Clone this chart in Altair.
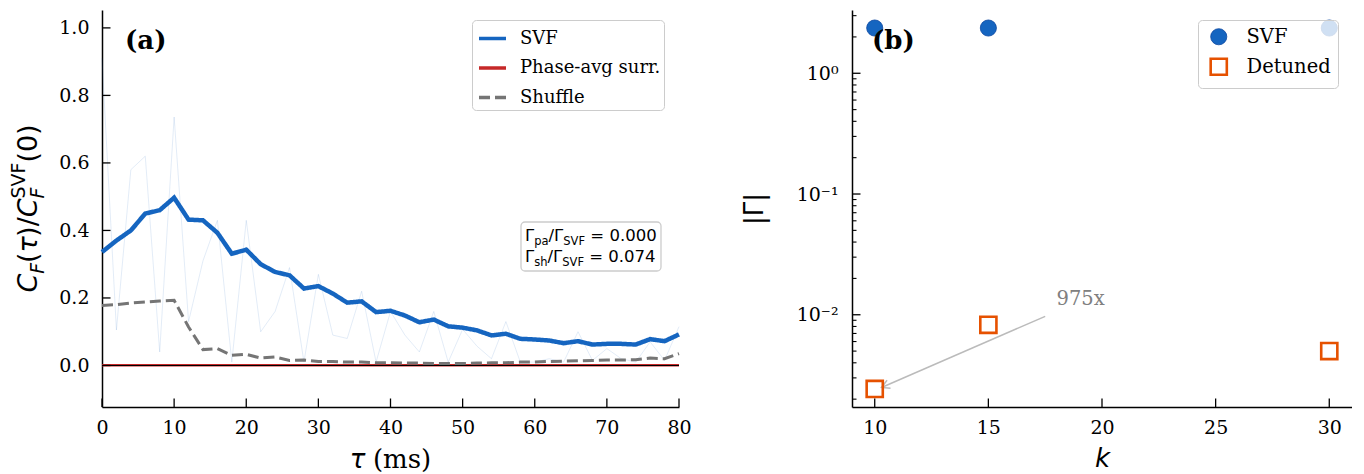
import math
import altair as alt
import pandas as pd

# ---------------- data ----------------
TAU = list(range(0, 81, 2))
SVF_SMOOTH = [0.336, 0.37, 0.40, 0.45, 0.46, 0.497, 0.432, 0.43, 0.393, 0.331, 0.343,
              0.30, 0.277, 0.267, 0.228, 0.235, 0.213, 0.186, 0.19, 0.158, 0.162,
              0.148, 0.128, 0.136, 0.116, 0.112, 0.104, 0.089, 0.094, 0.079, 0.077,
              0.074, 0.066, 0.072, 0.062, 0.064, 0.064, 0.062, 0.078, 0.072, 0.092]
SVF_RAW = [0.91, 0.105, 0.58, 0.62, 0.04, 0.736, 0.13, 0.31, 0.43, 0.01, 0.43,
           0.10, 0.16, 0.29, 0.01, 0.27, 0.09, 0.08, 0.22, 0.01, 0.16,
           0.09, 0.04, 0.16, 0.01, 0.107, 0.057, 0.02, 0.13, 0.01, 0.01,
           0.02, 0.01, 0.10, 0.015, 0.05, 0.02, 0.01, 0.07, 0.015, 0.115]
SHUFFLE = [0.178, 0.18, 0.185, 0.188, 0.191, 0.193, 0.114, 0.047, 0.05, 0.03, 0.033,
           0.022, 0.025, 0.015, 0.016, 0.012, 0.012, 0.01, 0.01, 0.008, 0.008,
           0.007, 0.007, 0.006, 0.006, 0.006, 0.007, 0.008, 0.008, 0.01, 0.01,
           0.012, 0.013, 0.014, 0.015, 0.016, 0.016, 0.017, 0.022, 0.02, 0.035]
PHASE_AVG = [0.001, 0.001, 0.001, 0.001, 0.001, 0.001, 0.001, 0.001, 0.001, 0.001, 0.001,
             0.001, 0.001, 0.001, 0.001, 0.001, 0.001, 0.001, 0.001, 0.001, 0.001,
             0.001, 0.001, 0.001, 0.001, 0.001, 0.001, 0.001, 0.001, 0.001, 0.001,
             0.001, 0.001, 0.001, 0.001, 0.001, 0.001, 0.001, 0.001, 0.001, 0.001]

SERIES_A = ["SVF", "Phase-avg surr.", "Shuffle"]
COLORS_A = ["#1565C0", "#C62828", "#757575"]
DASHES_A = [[1, 0], [1, 0], [11, 5]]
# stroke widths: point scale over this order gives 2.5, 3.0, 3.5, 4.0, 4.5
WIDTH_ORDER = ["Phase-avg surr.", "Shuffle", "_w1", "_w2", "SVF"]
WIDTH_RANGE = [2.5, 4.5]

K_VALUES = [10, 15, 30]
GAMMA_SVF = [2.37, 2.37, 2.37]
GAMMA_DETUNED = [0.00243, 0.00826, 0.0050]
SERIES_B = ["SVF", "Detuned"]

X_TICKS_A = [0, 10, 20, 30, 40, 50, 60, 70, 80]
Y_TICKS_A = [0.0, 0.2, 0.4, 0.6, 0.8, 1.0]
X_TICKS_B = [10, 15, 20, 25, 30]
Y_MAJOR_B = [0.01, 0.1, 1.0]
Y_MINOR_B = [2, 3, 0.2, 0.3, 0.4, 0.5, 0.6, 0.7, 0.8, 0.9,
             0.02, 0.03, 0.04, 0.05, 0.06, 0.07, 0.08, 0.09,
             0.002, 0.003, 0.004, 0.005, 0.006, 0.007, 0.008, 0.009]

RATIO_PA = "0.000"
RATIO_SH = "0.074"
ANNOT_TEXT = "975x"
ANNOT_POS = [18.0, 0.012]
ARROW_TAIL = [17.5, 0.0097]
ARROW_HEAD = [10.3, 0.0025]

# ---------------- layout ----------------
W_A, W_B, H = 577, 500, 397
Y_DOM_A = [-0.123, 1.053]
X_DOM_B = [9, 31]
Y_DOM_B = [0.001722, 3.342]

SERIF = "DejaVu Serif"
SANS = "DejaVu Sans"
ONE = pd.DataFrame({"_": [0]})

CW = {"Γ": 0.557, "p": 0.635, "a": 0.613, "/": 0.337, "S": 0.635, "V": 0.684, "F": 0.575,
      " ": 0.318, "=": 0.838, "0": 0.636, ".": 0.318, "7": 0.636, "4": 0.636, "s": 0.521,
      "h": 0.634, "C": 0.698, "(": 0.390, ")": 0.390, "τ": 0.574}


def tw(s, size):
    return sum(CW.get(c, 0.6) for c in s) * size


def text_layer(text, x, y, size, font=SANS, style="normal", weight="normal", angle=0,
               align="left", baseline="alphabetic", color="black"):
    return alt.Chart(ONE).mark_text(
        text=text, font=font, fontSize=size, fontStyle=style, fontWeight=weight,
        angle=angle, align=align, baseline=baseline, color=color
    ).encode(x=alt.value(x), y=alt.value(y))


# invisible anchor fixing the top-left corner of the drawing
anchor = alt.Chart(ONE).mark_rule(strokeWidth=0.01, opacity=0).encode(
    x=alt.value(-94), x2=alt.value(-94), y=alt.value(-2), y2=alt.value(-1))

# ---------------- panel A ----------------
xs_a = alt.Scale(domain=[0, 80], nice=False, zero=False)
ys_a = alt.Scale(domain=Y_DOM_A, nice=False, zero=False)

df_raw = pd.DataFrame({"tau": TAU, "value": SVF_RAW})
df_lines = pd.DataFrame({
    "tau": TAU * 3,
    "value": SVF_SMOOTH + PHASE_AVG + SHUFFLE,
    "series": [SERIES_A[0]] * len(TAU) + [SERIES_A[1]] * len(TAU) + [SERIES_A[2]] * len(TAU),
})

leg_a = alt.Legend(
    title=None, orient="none", legendX=370, legendY=10, symbolType="stroke",
    symbolSize=729, symbolStrokeWidth=3.5, labelFont=SERIF, labelFontSize=18, labelColor="black",
    rowPadding=4.5, padding=3, symbolOffset=2, labelOffset=12,
    strokeColor="#cccccc", fillColor="rgba(255,255,255,0.8)", cornerRadius=4,
)

raw = alt.Chart(df_raw).mark_line(color="#1565C0", strokeWidth=1, opacity=0.12).encode(
    x=alt.X("tau:Q", scale=xs_a),
    y=alt.Y("value:Q", scale=ys_a),
)

lines = alt.Chart(df_lines).mark_line().encode(
    x=alt.X("tau:Q", scale=xs_a, axis=alt.Axis(
        values=X_TICKS_A, title=None, labelPadding=11)),
    y=alt.Y("value:Q", scale=ys_a, axis=alt.Axis(
        values=Y_TICKS_A, format=".1f", title=None, labelPadding=13)),
    color=alt.Color("series:N", scale=alt.Scale(domain=SERIES_A, range=COLORS_A), legend=leg_a),
    strokeDash=alt.StrokeDash("series:N", scale=alt.Scale(domain=SERIES_A, range=DASHES_A), legend=leg_a),
    strokeWidth=alt.StrokeWidth("series:N", scale=alt.Scale(type="point", domain=WIDTH_ORDER,
                                                           range=WIDTH_RANGE), legend=None),
)

zero = alt.Chart(pd.DataFrame({"value": [0.0]})).mark_rule(color="black", strokeWidth=1.2).encode(
    y=alt.Y("value:Q", scale=ys_a))

xt_a = alt.Chart(pd.DataFrame({"tau": X_TICKS_A})).mark_rule(color="black", strokeWidth=1.3).encode(
    x=alt.X("tau:Q", scale=xs_a), y=alt.value(H), y2=alt.value(H - 8.5))
yt_a = alt.Chart(pd.DataFrame({"value": Y_TICKS_A})).mark_rule(color="black", strokeWidth=1.3).encode(
    y=alt.Y("value:Q", scale=ys_a), x=alt.value(0), x2=alt.value(8.5))

label_a = text_layer("(a)", 23, 31, 26, font=SERIF, weight="bold", baseline="middle")

# x title: italic tau + "(ms)"
XT = 26
xt_start = W_A / 2 - (tw("τ ", XT) + 2.24 * XT) / 2
xtitle_layers = [
    text_layer("τ", xt_start, H + 61, XT, style="italic"),
    text_layer("(ms)", xt_start + tw("τ ", XT), H + 61, XT, font=SERIF),
]

# ratio box
box = alt.Chart(ONE).mark_rect(fill="white", fillOpacity=0.8, stroke="#cccccc", strokeWidth=1.3,
                               cornerRadius=4).encode(
    x=alt.value(419), x2=alt.value(559), y=alt.value(212), y2=alt.value(261))
box_layers = []
for sub, val, base in [("pa", RATIO_PA, 231), ("sh", RATIO_SH, 252)]:
    pieces = [("Γ", 16.5, 0, 0), (sub, 11.5, 4, 0), ("/Γ", 16.5, 0, 0), ("SVF", 11.5, 4, 0),
              ("= " + val, 16.5, 0, tw(" ", 16.5))]
    x = 423
    for t, s, dy, pre in pieces:
        x += pre
        box_layers.append(text_layer(t, x, base + dy, s))
        x += tw(t, s)

# y title composite (rotated)
YS = 27
SS = 0.7 * YS
ytitle_pieces = [
    ("C", YS, 0, "italic", True), ("F", SS, 7, "italic", True), ("(", YS, 0, "normal", True),
    ("τ", YS, 0, "italic", True), (")/", YS, 0, "normal", True), ("C", YS, 0, "italic", True),
    ("F", SS, 7, "italic", False), ("SVF", SS, -12, "normal", True), ("(0)", YS, 0, "normal", True),
]
total = sum(tw(t, s) for t, s, _, _, adv in ytitle_pieces if adv)
ypos = H / 2 + total / 2
base_x = -65
ytitle_layers = []
for t, s, off, st, adv in ytitle_pieces:
    ytitle_layers.append(text_layer(t, base_x + off, ypos, s, style=st, angle=270))
    if adv:
        ypos -= tw(t, s)

panel_a = alt.layer(raw, lines, zero, xt_a, yt_a, box, *box_layers, label_a, *ytitle_layers,
                    *xtitle_layers, anchor).properties(width=W_A, height=H)

# ---------------- panel B ----------------
xs_b = alt.Scale(domain=X_DOM_B, nice=False, zero=False)
ys_b = alt.Scale(type="log", domain=Y_DOM_B, nice=False)

df_b = pd.DataFrame({
    "k": K_VALUES * 2,
    "gamma": GAMMA_SVF + GAMMA_DETUNED,
    "series": [SERIES_B[0]] * len(K_VALUES) + [SERIES_B[1]] * len(K_VALUES),
})

leg_b = alt.Legend(
    title=None, orient="none", legendX=346, legendY=10, symbolSize=260,
    labelFont=SERIF, labelFontSize=19.5, labelColor="black", rowPadding=6,
    padding=7, symbolOffset=4, labelOffset=18,
    strokeColor="#cccccc", fillColor="rgba(255,255,255,0.8)", cornerRadius=4,
)

points = alt.Chart(df_b).mark_point(size=260, opacity=1).encode(
    x=alt.X("k:Q", scale=xs_b, axis=alt.Axis(
        values=X_TICKS_B, title="k", titleFont=SANS, titleFontStyle="italic",
        titleFontSize=26, titlePadding=8, labelPadding=11)),
    y=alt.Y("gamma:Q", scale=ys_b, axis=alt.Axis(
        values=Y_MAJOR_B, title="|Γ|", titleFont=SANS, titleFontSize=26, titlePadding=29,
        labelPadding=14,
        labelExpr="datum.value > 0.5 ? '10⁰' : (datum.value > 0.05 ? '10⁻¹' : '10⁻²')")),
    shape=alt.Shape("series:N", scale=alt.Scale(domain=SERIES_B, range=["circle", "square"]), legend=leg_b),
    fill=alt.Fill("series:N", scale=alt.Scale(domain=SERIES_B, range=["#1565C0", "transparent"]), legend=leg_b),
    stroke=alt.Stroke("series:N", scale=alt.Scale(domain=SERIES_B, range=["#0D47A1", "#E65100"]), legend=leg_b),
    strokeWidth=alt.StrokeWidth("series:N", scale=alt.Scale(type="point", domain=SERIES_B,
                                                           range=[0.8, 2.6]), legend=leg_b),
)

df_arrow = pd.DataFrame({"k": [ARROW_TAIL[0]], "gamma": [ARROW_TAIL[1]],
                         "k2": [ARROW_HEAD[0]], "g2": [ARROW_HEAD[1]]})
arrow = alt.Chart(df_arrow).mark_rule(color="#bbbbbb", strokeWidth=1.5).encode(
    x=alt.X("k:Q", scale=xs_b), x2="k2:Q",
    y=alt.Y("gamma:Q", scale=ys_b), y2="g2:Q")

px_per_k = W_B / (X_DOM_B[1] - X_DOM_B[0])
px_per_dec = H / (math.log10(Y_DOM_B[1]) - math.log10(Y_DOM_B[0]))
dxp = (ARROW_HEAD[0] - ARROW_TAIL[0]) * px_per_k
dyp = -(math.log10(ARROW_HEAD[1]) - math.log10(ARROW_TAIL[1])) * px_per_dec
ang = math.degrees(math.atan2(dyp, dxp)) % 360

head = alt.Chart(pd.DataFrame({"k": [ARROW_HEAD[0]], "gamma": [ARROW_HEAD[1]]})).mark_point(
    shape="M-1,-0.55L0,0L-1,0.55", filled=False, stroke="#bbbbbb", strokeWidth=1.5,
    size=250, angle=ang, opacity=1).encode(
    x=alt.X("k:Q", scale=xs_b), y=alt.Y("gamma:Q", scale=ys_b))

annot = alt.Chart(pd.DataFrame({"k": [ANNOT_POS[0]], "gamma": [ANNOT_POS[1]], "t": [ANNOT_TEXT]})).mark_text(
    font=SERIF, fontSize=19.5, color="#808080", align="left", baseline="alphabetic").encode(
    x=alt.X("k:Q", scale=xs_b), y=alt.Y("gamma:Q", scale=ys_b), text="t:N")

xt_b = alt.Chart(pd.DataFrame({"k": X_TICKS_B})).mark_rule(color="black", strokeWidth=1.3).encode(
    x=alt.X("k:Q", scale=xs_b), y=alt.value(H), y2=alt.value(H - 8.5))
yt_b = alt.Chart(pd.DataFrame({"gamma": Y_MAJOR_B})).mark_rule(color="black", strokeWidth=1.3).encode(
    y=alt.Y("gamma:Q", scale=ys_b), x=alt.value(0), x2=alt.value(8.5))
ytm_b = alt.Chart(pd.DataFrame({"gamma": Y_MINOR_B})).mark_rule(color="black", strokeWidth=1.1).encode(
    y=alt.Y("gamma:Q", scale=ys_b), x=alt.value(0), x2=alt.value(4.5))

label_b = text_layer("(b)", 20, 31, 26, font=SERIF, weight="bold", baseline="middle")

panel_b = alt.layer(arrow, head, points, annot, xt_b, yt_b, ytm_b, label_b).properties(
    width=W_B, height=H)

chart = alt.hconcat(panel_a, panel_b, spacing=173, bounds="flush").resolve_scale(
    color="independent", strokeDash="independent", strokeWidth="independent",
    shape="independent", fill="independent", stroke="independent",
).properties(
    padding=0,
).configure_view(stroke=None).configure_axis(
    domainColor="black", domainWidth=1.5, grid=False, ticks=False, tickSize=0,
    labelFont=SERIF, labelFontSize=19, labelColor="black", titleColor="black",
    titleFontWeight="normal", labelFlush=False, labelOverlap=False,
)

chart.save("out.html", embed_options={"renderer": "svg", "actions": False})
